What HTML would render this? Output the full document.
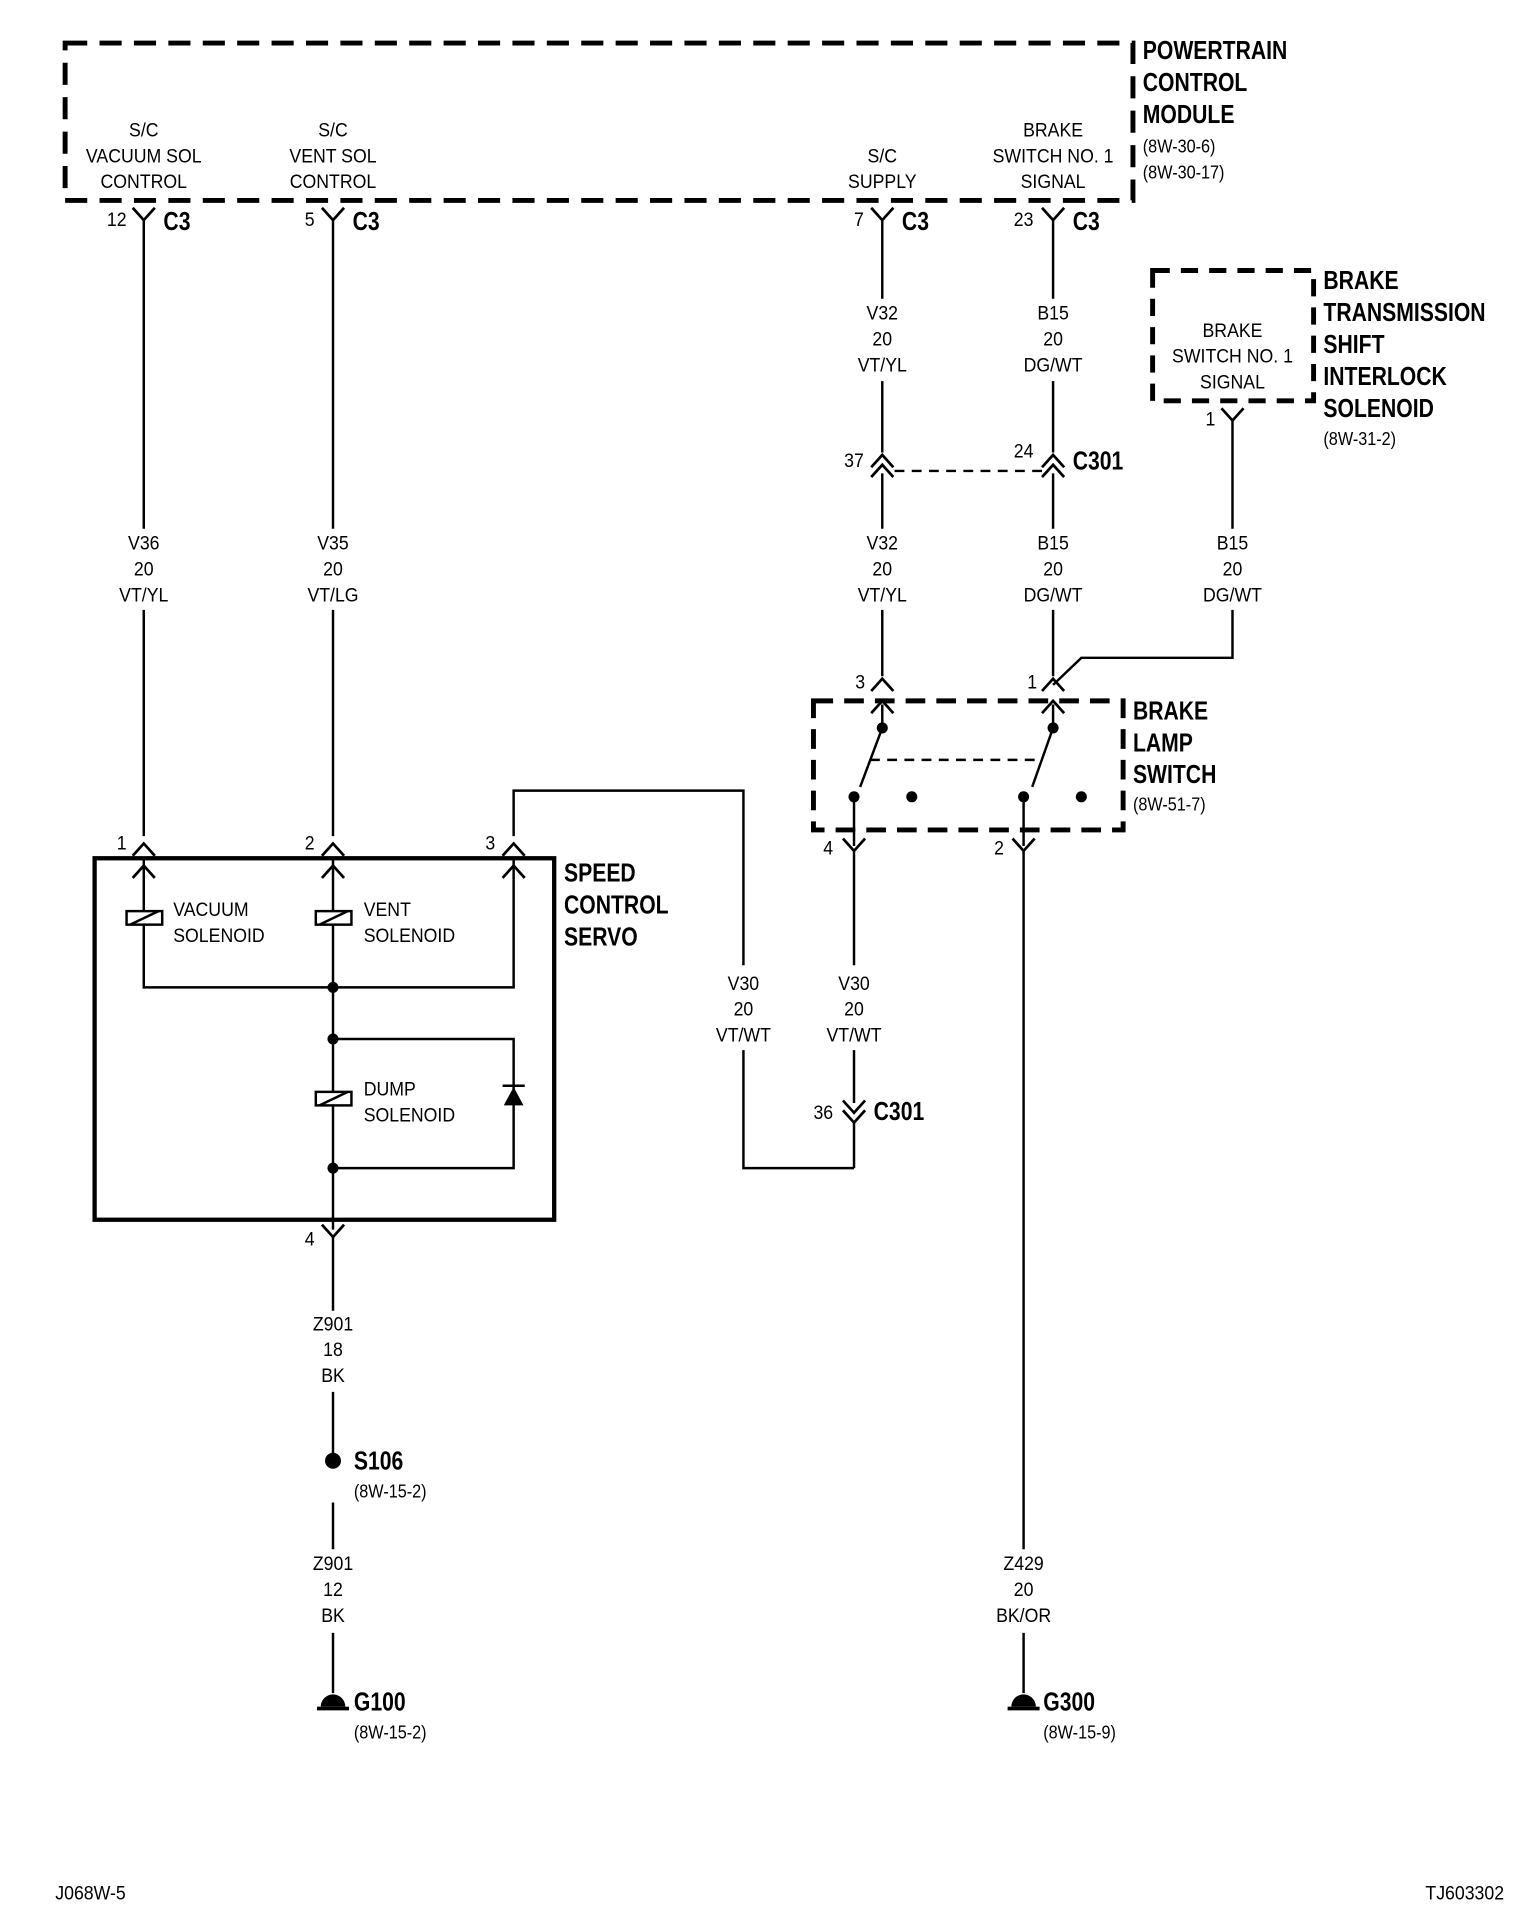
<!DOCTYPE html>
<html><head><meta charset="utf-8"><style>
html,body{margin:0;padding:0;background:#fff}
svg{display:block}
text{font-family:"Liberation Sans",sans-serif;fill:#000;transform-box:fill-box}
.t{font-size:16px;text-anchor:middle;transform-origin:50% 0;transform:scaleX(.9)}
.s text{font-size:16px;transform-origin:0 0;transform:scaleX(.9)}
.b text{font-size:21px;font-weight:bold;transform-origin:0 0;transform:scaleX(.82)}
.r text{font-size:15px;transform-origin:0 0;transform:scaleX(.88)}
</style></head><body>
<svg width="1536" height="1928" viewBox="0 0 1250 1568" preserveAspectRatio="none" xmlns="http://www.w3.org/2000/svg">
<defs>
<g id="v"><polyline points="-9,-8 0,2 9,-8" fill="none" stroke="#000" stroke-width="2.2"/></g>
<g id="c"><polyline points="-9,8 0,-2 9,8" fill="none" stroke="#000" stroke-width="2.2"/></g>
</defs>
<g fill="none" stroke="#000">
<rect x="53" y="35" width="869" height="128" stroke-width="4" stroke-dasharray="18,10"/>
<rect x="938" y="220" width="131" height="106" stroke-width="4" stroke-dasharray="14,9"/>
<rect x="662" y="570" width="252" height="105" stroke-width="4" stroke-dasharray="16,9"/>
<rect x="77" y="698" width="374" height="294" stroke-width="3.5"/>
<g stroke-width="2">
<path d="M117 178V430M117 496V680"/>
<path d="M271 178V430M271 496V680"/>
<path d="M718 178V243M718 310V368M718 385V430M718 496V550"/>
<path d="M857 178V243M857 310V368M857 385V430M857 496V550"/>
<path d="M1003 342V430M1003 496V535H880L857 557"/>
<path d="M418 680V643H605V785M605 854V950H695"/>
<path d="M695 692V785M695 854V897M695 912V950"/>
<path d="M833 692V1260M833 1328V1377"/>
<path d="M271 1005V1066M271 1132V1188M271 1222V1260M271 1328V1377"/>
<path d="M117 698V803H418V698M271 698V1000M271 845H418V950H271"/>
<path d="M718 573V592L700 640M857 573V592L840 640M695 648V688M833 648V688"/>
</g>
<path d="M728 383H848M708 618H848" stroke-width="2" stroke-dasharray="8,6"/>
</g>
<g fill="#fff" stroke="#000" stroke-width="2">
<rect x="103" y="741" width="29" height="11"/><line x1="106" y1="752" x2="129" y2="741"/>
<rect x="257" y="741" width="29" height="11"/><line x1="260" y1="752" x2="283" y2="741"/>
<rect x="257" y="888" width="29" height="11"/><line x1="260" y1="899" x2="283" y2="888"/>
</g>
<polygon points="410,899 426,899 418,884" fill="#000"/>
<line x1="409" y1="883" x2="427" y2="883" stroke="#000" stroke-width="2"/>
<g fill="#000">
<circle cx="271" cy="803" r="4.5"/><circle cx="271" cy="845" r="4.5"/><circle cx="271" cy="950" r="4.5"/>
<circle cx="718" cy="592" r="4.5"/><circle cx="695" cy="648" r="4.5"/><circle cx="742" cy="648" r="4.5"/>
<circle cx="857" cy="592" r="4.5"/><circle cx="833" cy="648" r="4.5"/><circle cx="880" cy="648" r="4.5"/>
<circle cx="271" cy="1188" r="6.5"/>
<path d="M261 1388a10 10 0 0 1 20 0z"/><rect x="258" y="1388" width="26" height="3"/>
<path d="M823 1388a10 10 0 0 1 20 0z"/><rect x="820" y="1388" width="26" height="3"/>
</g>
<use href="#v" x="117" y="177"/><use href="#v" x="271" y="177"/><use href="#v" x="718" y="177"/><use href="#v" x="857" y="177"/>
<use href="#v" x="1003" y="340"/>
<use href="#c" x="718" y="372"/><use href="#c" x="718" y="380"/>
<use href="#c" x="857" y="372"/><use href="#c" x="857" y="380"/>
<use href="#c" x="718" y="554"/><use href="#c" x="857" y="554"/>
<use href="#c" x="718" y="572"/><use href="#c" x="857" y="572"/>
<use href="#v" x="695" y="690"/><use href="#v" x="833" y="690"/>
<use href="#c" x="117" y="688"/><use href="#c" x="271" y="688"/><use href="#c" x="418" y="688"/>
<use href="#c" x="117" y="706"/><use href="#c" x="271" y="706"/><use href="#c" x="418" y="706"/>
<use href="#v" x="271" y="1004"/>
<use href="#v" x="695" y="903"/><use href="#v" x="695" y="911"/>
<g>
<text class="t" x="117" y="111">S/C</text><text class="t" x="117" y="132">VACUUM SOL</text><text class="t" x="117" y="153">CONTROL</text>
<text class="t" x="271" y="111">S/C</text><text class="t" x="271" y="132">VENT SOL</text><text class="t" x="271" y="153">CONTROL</text>
<text class="t" x="718" y="132">S/C</text><text class="t" x="718" y="153">SUPPLY</text>
<text class="t" x="857" y="111">BRAKE</text><text class="t" x="857" y="132">SWITCH NO. 1</text><text class="t" x="857" y="153">SIGNAL</text>
<text class="t" x="1003" y="274">BRAKE</text><text class="t" x="1003" y="295">SWITCH NO. 1</text><text class="t" x="1003" y="316">SIGNAL</text>
<text class="t" x="117" y="447">V36</text><text class="t" x="117" y="468">20</text><text class="t" x="117" y="489">VT/YL</text>
<text class="t" x="271" y="447">V35</text><text class="t" x="271" y="468">20</text><text class="t" x="271" y="489">VT/LG</text>
<text class="t" x="718" y="260">V32</text><text class="t" x="718" y="281">20</text><text class="t" x="718" y="302">VT/YL</text>
<text class="t" x="857" y="260">B15</text><text class="t" x="857" y="281">20</text><text class="t" x="857" y="302">DG/WT</text>
<text class="t" x="718" y="447">V32</text><text class="t" x="718" y="468">20</text><text class="t" x="718" y="489">VT/YL</text>
<text class="t" x="857" y="447">B15</text><text class="t" x="857" y="468">20</text><text class="t" x="857" y="489">DG/WT</text>
<text class="t" x="1003" y="447">B15</text><text class="t" x="1003" y="468">20</text><text class="t" x="1003" y="489">DG/WT</text>
<text class="t" x="605" y="805">V30</text><text class="t" x="605" y="826">20</text><text class="t" x="605" y="847">VT/WT</text>
<text class="t" x="695" y="805">V30</text><text class="t" x="695" y="826">20</text><text class="t" x="695" y="847">VT/WT</text>
<text class="t" x="271" y="1082">Z901</text><text class="t" x="271" y="1103">18</text><text class="t" x="271" y="1124">BK</text>
<text class="t" x="271" y="1277">Z901</text><text class="t" x="271" y="1298">12</text><text class="t" x="271" y="1319">BK</text>
<text class="t" x="833" y="1277">Z429</text><text class="t" x="833" y="1298">20</text><text class="t" x="833" y="1319">BK/OR</text>
</g>
<g class="s">
<text x="87" y="184">12</text><text x="248" y="184">5</text><text x="695" y="184">7</text><text x="825" y="184">23</text>
<text x="981" y="346">1</text>
<text x="687" y="380">37</text><text x="825" y="372">24</text>
<text x="696" y="560">3</text><text x="836" y="560">1</text>
<text x="670" y="695">4</text><text x="809" y="695">2</text>
<text x="95" y="691">1</text><text x="248" y="691">2</text><text x="395" y="691">3</text>
<text x="248" y="1013">4</text><text x="662" y="910">36</text>
<text x="141" y="745">VACUUM</text><text x="141" y="766">SOLENOID</text>
<text x="296" y="745">VENT</text><text x="296" y="766">SOLENOID</text>
<text x="296" y="891">DUMP</text><text x="296" y="912">SOLENOID</text>
<text x="45" y="1545">J068W-5</text><text x="1160" y="1545">TJ603302</text>
</g>
<g class="b">
<text x="930" y="48">POWERTRAIN</text><text x="930" y="74">CONTROL</text><text x="930" y="100">MODULE</text>
<text x="133" y="187">C3</text><text x="287" y="187">C3</text><text x="734" y="187">C3</text><text x="873" y="187">C3</text>
<text x="873" y="382">C301</text><text x="711" y="911">C301</text>
<text x="1077" y="235">BRAKE</text><text x="1077" y="261">TRANSMISSION</text><text x="1077" y="287">SHIFT</text><text x="1077" y="313">INTERLOCK</text><text x="1077" y="339">SOLENOID</text>
<text x="922" y="585">BRAKE</text><text x="922" y="611">LAMP</text><text x="922" y="637">SWITCH</text>
<text x="459" y="717">SPEED</text><text x="459" y="743">CONTROL</text><text x="459" y="769">SERVO</text>
<text x="288" y="1195">S106</text><text x="288" y="1391">G100</text><text x="849" y="1391">G300</text>
</g>
<g class="r">
<text x="930" y="124">(8W-30-6)</text><text x="930" y="145">(8W-30-17)</text>
<text x="1077" y="362">(8W-31-2)</text><text x="922" y="659">(8W-51-7)</text>
<text x="288" y="1218">(8W-15-2)</text><text x="288" y="1414">(8W-15-2)</text><text x="849" y="1414">(8W-15-9)</text>
</g>
</svg>
</body></html>
